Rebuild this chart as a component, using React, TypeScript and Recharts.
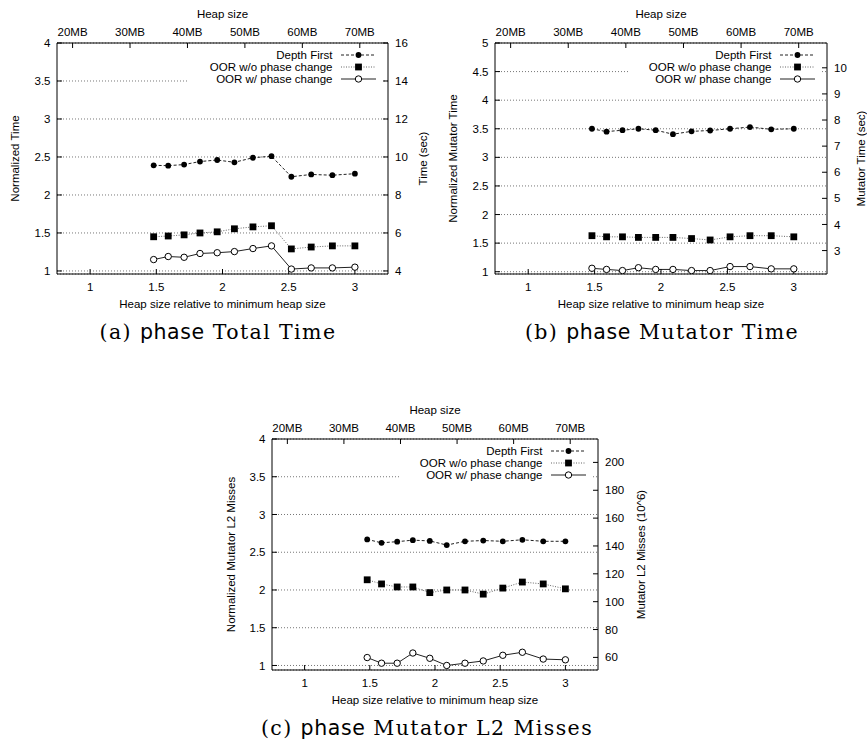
import React from 'react';
import { LineChart, Line, XAxis, YAxis, CartesianGrid, Label } from 'recharts';

// ---- data ----
const heapRatio = [1.48, 1.59, 1.71, 1.83, 1.96, 2.09, 2.23, 2.37, 2.52, 2.67, 2.83, 3.0];
const xTicks = [1, 1.5, 2, 2.5, 3];
const mbTicks = [20, 30, 40, 50, 60, 70];
const MB_PER_RATIO = 23.05;

const seriesNames = ['Depth First', 'OOR w/o phase change', 'OOR w/ phase change'];

// (a) Total time (normalized)
const totalDepthFirst = [2.39, 2.386, 2.4, 2.44, 2.46, 2.43, 2.49, 2.51, 2.24, 2.27, 2.26, 2.28];
const totalOorNoPhase = [1.45, 1.46, 1.475, 1.5, 1.515, 1.555, 1.58, 1.595, 1.29, 1.315, 1.33, 1.33];
const totalOorPhase = [1.15, 1.19, 1.18, 1.23, 1.24, 1.255, 1.295, 1.33, 1.025, 1.04, 1.04, 1.05];
const totalLeftTicks = [1, 1.5, 2, 2.5, 3, 3.5, 4];
const totalRightTicks = [4, 6, 8, 10, 12, 14, 16];

// (b) Mutator time (normalized)
const mutDepthFirst = [3.5, 3.45, 3.475, 3.5, 3.475, 3.405, 3.455, 3.47, 3.5, 3.53, 3.49, 3.5];
const mutOorNoPhase = [1.63, 1.61, 1.61, 1.6, 1.6, 1.6, 1.58, 1.555, 1.61, 1.63, 1.63, 1.61];
const mutOorPhase = [1.06, 1.04, 1.02, 1.07, 1.04, 1.04, 1.02, 1.02, 1.09, 1.09, 1.05, 1.05];
const mutLeftTicks = [1, 1.5, 2, 2.5, 3, 3.5, 4, 4.5, 5];
const mutRightTicks = [3, 4, 5, 6, 7, 8, 9, 10];

// (c) Mutator L2 misses (normalized)
const l2DepthFirst = [2.67, 2.625, 2.64, 2.66, 2.65, 2.595, 2.645, 2.655, 2.645, 2.665, 2.645, 2.645];
const l2OorNoPhase = [2.135, 2.08, 2.04, 2.04, 1.965, 2.0, 2.0, 1.945, 2.025, 2.105, 2.08, 2.015];
const l2OorPhase = [1.105, 1.03, 1.03, 1.165, 1.095, 1.0, 1.03, 1.06, 1.135, 1.175, 1.085, 1.075];
const l2LeftTicks = [1, 1.5, 2, 2.5, 3, 3.5, 4];
const l2RightTicks = [60, 80, 100, 120, 140, 160, 180, 200];

const buildRows = (df: number[], no: number[], ph: number[]) =>
  heapRatio.map((x, i) => ({ x, df: df[i], no: no[i], ph: ph[i] }));

// top axis ticks expressed on the ratio scale
const mbTicksAsRatio = mbTicks.map((m) => m / MB_PER_RATIO);

// ---- styles ----
const FONT = '"Liberation Sans", Arial, Helvetica, sans-serif';
const FS = 11.5;
const tickStyle = { fill: '#000', fontSize: FS, fontFamily: FONT };
const TOP_H = 43;
const PLOT_H = 231;
const BOT_H = 46;

const DotFilled = (props: any) => {
  const { cx, cy, index } = props;
  if (cx == null || cy == null) return <g key={`f${index}`} />;
  return <circle key={`f${index}`} cx={cx} cy={cy} r={2.9} fill="#000" stroke="none" />;
};
const DotSquare = (props: any) => {
  const { cx, cy, index } = props;
  if (cx == null || cy == null) return <g key={`s${index}`} />;
  return <rect key={`s${index}`} x={cx - 3.4} y={cy - 3.4} width={6.8} height={6.8} fill="#000" stroke="none" />;
};
const DotOpen = (props: any) => {
  const { cx, cy, index } = props;
  if (cx == null || cy == null) return <g key={`o${index}`} />;
  return <circle key={`o${index}`} cx={cx} cy={cy} r={3.2} fill="#fff" stroke="#000" strokeWidth={1} />;
};

function LegendBox({ right, top }: { right: number; top: number }) {
  const w = 199;
  const h = 40;
  const rows = [12, 24, 36];
  const textX = w - 55.5;
  const x1 = w - 47;
  const x2 = w - 12;
  const mx = (x1 + x2) / 2;
  return (
    <svg
      width={w}
      height={h + 6}
      style={{ position: 'absolute', left: right - w, top: top, overflow: 'visible' }}
    >
      <rect x={0} y={5.5} width={w - 5} height={h - 1} fill="#fff" />
      {seriesNames.map((name, i) => (
        <text
          key={name}
          x={textX}
          y={rows[i] + 4}
          textAnchor="end"
          fontFamily={FONT}
          fontSize={FS}
          fill="#000"
        >
          {name}
        </text>
      ))}
      <line x1={x1} x2={x2} y1={rows[0]} y2={rows[0]} stroke="#222" strokeDasharray="3 2" />
      <circle cx={mx} cy={rows[0]} r={2.9} fill="#000" />
      <line x1={x1} x2={x2} y1={rows[1]} y2={rows[1]} stroke="#666" strokeDasharray="1 1.5" />
      <rect x={mx - 3.4} y={rows[1] - 3.4} width={6.8} height={6.8} fill="#000" />
      <line x1={x1} x2={x2} y1={rows[2]} y2={rows[2]} stroke="#222" />
      <circle cx={mx} cy={rows[2]} r={3.2} fill="#fff" stroke="#000" />
    </svg>
  );
}

type PanelProps = {
  left: number;
  top: number;
  leftW: number;
  plotW: number;
  rightW: number;
  rows: any[];
  yDomain: [number, number];
  yTicks: number[];
  rDomain: [number, number];
  rTicks: number[];
  yTitle: string;
  rTitle: string;
  yTitleOffset: number;
  rTitleOffset: number;
};

function Panel(p: PanelProps) {
  const width = p.leftW + p.plotW + p.rightW;
  const height = TOP_H + PLOT_H + BOT_H;
  return (
    <div style={{ position: 'absolute', left: p.left, top: p.top, width, height }}>
      <LineChart width={width} height={height} data={p.rows} margin={{ top: 0, right: 0, bottom: 0, left: 0 }}>
        <CartesianGrid
          xAxisId="bottom"
          yAxisId="left"
          vertical={false}
          stroke="#777"
          strokeDasharray="1 2"
        />
        <XAxis
          xAxisId="bottom"
          dataKey="x"
          type="number"
          orientation="bottom"
          domain={[0.75, 3.25]}
          allowDataOverflow
          ticks={xTicks}
          interval={0}
          height={BOT_H}
          tickSize={-5}
          tickMargin={14}
          stroke="#000"
          tick={tickStyle}
        >
          <Label
            value="Heap size relative to minimum heap size"
            position="insideBottom"
            offset={12.5}
            fill="#000"
            fontSize={FS}
            fontFamily={FONT}
          />
        </XAxis>
        <XAxis
          xAxisId="top"
          dataKey="x"
          type="number"
          orientation="top"
          domain={[0.75, 3.25]}
          allowDataOverflow
          ticks={mbTicksAsRatio}
          interval={0}
          tickFormatter={(v: number) => `${Math.round(v * MB_PER_RATIO)}MB`}
          height={TOP_H}
          tickSize={-5}
          tickMargin={12}
          stroke="#000"
          tick={tickStyle}
        >
          <Label value="Heap size" position="insideTop" offset={10} fill="#000" fontSize={FS} fontFamily={FONT} />
        </XAxis>
        <YAxis
          yAxisId="left"
          type="number"
          domain={p.yDomain}
          allowDataOverflow
          ticks={p.yTicks}
          interval={0}
          width={p.leftW}
          tickSize={-5}
          tickMargin={11.5}
          stroke="#000"
          tick={tickStyle}
        >
          <Label
            value={p.yTitle}
            angle={-90}
            position="insideLeft"
            offset={p.yTitleOffset}
            fill="#000"
            fontSize={FS}
            fontFamily={FONT}
            style={{ textAnchor: 'middle' }}
          />
        </YAxis>
        <YAxis
          yAxisId="right"
          orientation="right"
          type="number"
          domain={p.rDomain}
          allowDataOverflow
          ticks={p.rTicks}
          interval={0}
          width={p.rightW}
          tickSize={-5}
          tickMargin={12}
          stroke="#000"
          tick={tickStyle}
        >
          <Label
            value={p.rTitle}
            angle={-90}
            position="insideRight"
            offset={p.rTitleOffset}
            fill="#000"
            fontSize={FS}
            fontFamily={FONT}
            style={{ textAnchor: 'middle' }}
          />
        </YAxis>
        <Line
          xAxisId="bottom"
          yAxisId="left"
          dataKey="df"
          type="linear"
          stroke="#222"
          strokeWidth={1}
          strokeDasharray="3 2"
          dot={DotFilled}
          activeDot={false}
          isAnimationActive={false}
        />
        <Line
          xAxisId="bottom"
          yAxisId="left"
          dataKey="no"
          type="linear"
          stroke="#666"
          strokeWidth={1}
          strokeDasharray="1 1.5"
          dot={DotSquare}
          activeDot={false}
          isAnimationActive={false}
        />
        <Line
          xAxisId="bottom"
          yAxisId="left"
          dataKey="ph"
          type="linear"
          stroke="#222"
          strokeWidth={1}
          dot={DotOpen}
          activeDot={false}
          isAnimationActive={false}
        />
      </LineChart>
      <LegendBox right={p.leftW + p.plotW} top={TOP_H} />
    </div>
  );
}

const SERIF = '"DejaVu Serif", "Liberation Serif", serif';
const SANS = '"DejaVu Sans", "Liberation Sans", sans-serif';

function Caption({ cx, top, tag, title }: { cx: number; top: number; tag: string; title: string }) {
  return (
    <div
      style={{
        position: 'absolute',
        left: cx - 250,
        top,
        width: 500,
        textAlign: 'center',
        fontFamily: SERIF,
        fontSize: 20.5,
        letterSpacing: '1.4px',
        lineHeight: '24px',
        color: '#000',
        whiteSpace: 'nowrap',
      }}
    >
      {tag} <span style={{ fontFamily: SANS, letterSpacing: '0.6px' }}>phase</span> {title}
    </div>
  );
}

export default function App() {
  return (
    <div
      style={{
        position: 'absolute',
        left: 0,
        top: 0,
        width: 867,
        height: 742,
        overflow: 'hidden',
        background: '#fff',
      }}
    >
      <Panel
        left={0}
        top={0}
        leftW={57}
        plotW={331}
        rightW={44}
        rows={buildRows(totalDepthFirst, totalOorNoPhase, totalOorPhase)}
        yDomain={[0.96, 4]}
        yTicks={totalLeftTicks}
        rDomain={[3.84, 16]}
        rTicks={totalRightTicks}
        yTitle="Normalized Time"
        rTitle="Time (sec)"
        yTitleOffset={15}
        rTitleOffset={9}
      />
      <Panel
        left={438}
        top={0}
        leftW={57}
        plotW={332}
        rightW={40}
        rows={buildRows(mutDepthFirst, mutOorNoPhase, mutOorPhase)}
        yDomain={[0.96, 5]}
        yTicks={mutLeftTicks}
        rDomain={[0.96 * 2.19, 5 * 2.19]}
        rTicks={mutRightTicks}
        yTitle="Normalized Mutator Time"
        rTitle="Mutator Time (sec)"
        yTitleOffset={15}
        rTitleOffset={6}
      />
      <Panel
        left={215}
        top={396}
        leftW={57}
        plotW={326}
        rightW={50}
        rows={buildRows(l2DepthFirst, l2OorNoPhase, l2OorPhase)}
        yDomain={[0.94, 4]}
        yTicks={l2LeftTicks}
        rDomain={[0.94 * 54.2, 4 * 54.2]}
        rTicks={l2RightTicks}
        yTitle="Normalized Mutator L2 Misses"
        rTitle="Mutator L2 Misses (10^6)"
        yTitleOffset={16}
        rTitleOffset={7}
      />
      <Caption cx={218} top={320} tag="(a)" title="Total Time" />
      <Caption cx={662} top={320} tag="(b)" title="Mutator Time" />
      <Caption cx={427} top={716} tag="(c)" title="Mutator L2 Misses" />
    </div>
  );
}
